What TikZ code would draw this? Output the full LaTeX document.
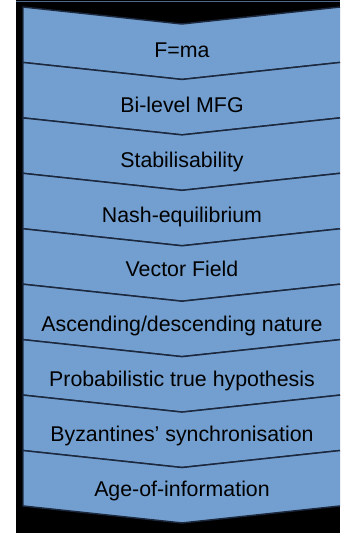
\documentclass[tikz,border=0pt]{standalone}
\usepackage{fontspec}
\setmainfont{Liberation Sans}
\definecolor{chevfill}{RGB}{114,159,207}
\definecolor{chevline}{RGB}{28,40,62}
\definecolor{topline}{RGB}{80,105,140}
\begin{document}
\begin{tikzpicture}[x=0.75pt,y=-0.75pt,
  chevfillst/.style={fill=chevfill},
  chevedge/.style={draw=chevline,line width=1.1pt,line join=miter},
  lbl/.style={anchor=base,inner sep=0pt,font=\fontsize{16}{19}\selectfont,text=black}]
\useasboundingbox (0,0) rectangle (340,533);
\fill[white] (0,0) rectangle (340,533);
\fill[black] (16,0) rectangle (340,533);
\draw[topline,line width=0.9pt] (16,1.3) -- (340,1.3);
\foreach \i in {0,...,8}{
  \pgfmathsetmacro{\ya}{7+55.44*\i}
  \pgfmathsetmacro{\yb}{\ya+55.44}
  \fill[chevfillst] (23,\ya) -- (182,\ya+17) -- (340,\ya) -- (340,\yb) -- (182,\yb+17) -- (23,\yb) -- cycle;
  \draw[chevedge] (340,\ya) -- (182,\ya+17) -- (23,\ya) -- (23,\yb) -- (182,\yb+17) -- (340,\yb);
}
\foreach \t [count=\j from 0] in {F=ma,Bi-level MFG,Stabilisability,Nash-equilibrium,Vector Field,Ascending/descending nature,Probabilistic true hypothesis,Byzantines’ synchronisation,Age-of-information}{
  \pgfmathsetmacro{\yt}{57.3+54.9*\j}
  \node[lbl] (t\j) at (182,\yt) {\t};
}
\end{tikzpicture}
\end{document}
